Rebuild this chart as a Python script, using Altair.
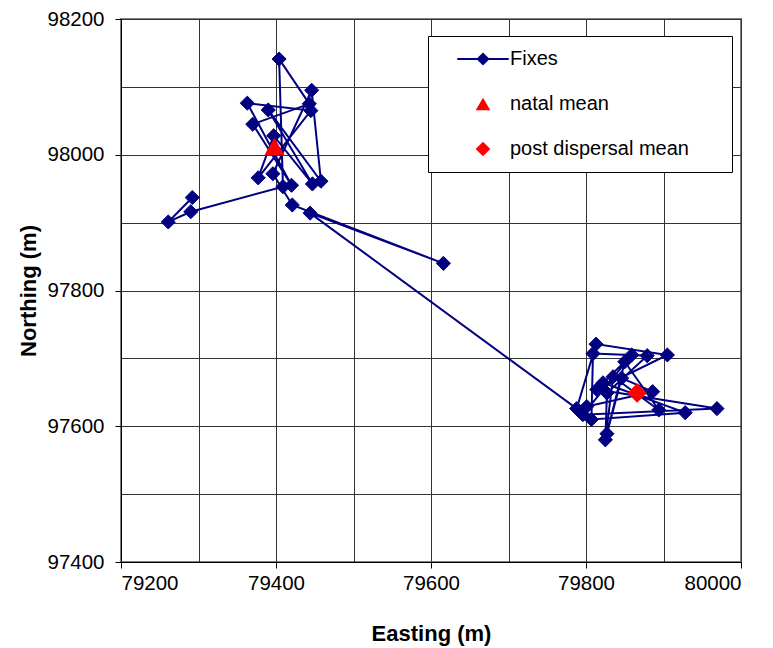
import altair as alt
import pandas as pd

# Telemetry fixes in time order (Easting, Northing in m)
fix_x = [79292, 79261, 79290, 79409, 79404, 79443, 79370, 79420, 79363, 79445,
         79377, 79397, 79447, 79390, 79458, 79446, 79396, 79421, 79616, 79444,
         79788, 79813, 79905, 79814, 79969, 79796, 79859, 79822, 79928, 79807,
         79809, 79879, 79827, 79825, 79835, 79894, 79850, 79827, 79846, 79886,
         79801]
fix_y = [97937, 97901, 97916, 97953, 98141, 98075, 98045, 97955, 98076, 98065,
         97966, 98028, 97957, 98066, 97961, 98095, 97972, 97926, 97840, 97914,
         97626, 97721, 97705, 97654, 97626, 97617, 97705, 97664, 97620, 97610,
         97707, 97704, 97649, 97580, 97673, 97624, 97695, 97589, 97671, 97651,
         97629]

natal_x = [79398]
natal_y = [98012]
post_x = [79866]
post_y = [97649]

series_names = ["Fixes", "natal mean", "post dispersal mean"]
series_colors = ["#000080", "#FF0000", "#FF0000"]
fixes_symbol = ("M-3.5,-0.14L3.5,-0.14L3.5,0.14L-3.5,0.14Z "
                "M-0.9,0L0,-0.9L0.9,0L0,0.9Z")
series_shapes = [fixes_symbol, "triangle-up", "diamond"]

x_ticks = list(range(79200, 80001, 100))
y_ticks = list(range(97400, 98201, 100))

fixes = pd.DataFrame({"x": fix_x, "y": fix_y, "idx": list(range(len(fix_x)))})
natal = pd.DataFrame({"x": natal_x, "y": natal_y, "series": ["natal mean"]})
post = pd.DataFrame({"x": post_x, "y": post_y, "series": ["post dispersal mean"]})

FONT = "Liberation Sans"
tick_op = {"condition": {"test": "datum.value % 200 === 0", "value": 1}, "value": 0}

x_enc = alt.X("x:Q", scale=alt.Scale(domain=[79200, 80000], nice=False, zero=False),
              axis=alt.Axis(values=x_ticks, format="d", title="Easting (m)",
                            labelExpr="datum.value % 200 === 0 ? datum.label : ''",
                            tickOpacity=tick_op, titleX=310, titleY=71,
                            titleBaseline="middle", titleAlign="center"))
y_enc = alt.Y("y:Q", scale=alt.Scale(domain=[97400, 98200], nice=False, zero=False),
              axis=alt.Axis(values=y_ticks, format="d", title="Northing (m)",
                            labelExpr="datum.value % 200 === 0 ? datum.label : ''",
                            tickOpacity=tick_op, titleAngle=270, titleX=-93,
                            titleY=271.5, titleBaseline="middle", titleAlign="center"))

color_scale = alt.Scale(domain=series_names, range=series_colors)
shape_scale = alt.Scale(domain=series_names, range=series_shapes)
# invisible (non-whitespace) blank characters pad the legend frame to the right
legend = alt.Legend(title=None, orient="none", legendX=307, legendY=17,
                    symbolSize=216, symbolOffset=32, labelOffset=17,
                    padding=13, rowPadding=25, strokeColor="#000000",
                    fillColor="#FFFFFF", labelFont=FONT, labelFontSize=20,
                    labelColor="#000000", labelLimit=500,
                    symbolStrokeWidth=0, symbolOpacity=1,
                    labelExpr="datum.label + '\u2800\u2800'")

line = alt.Chart(fixes).mark_line(color="#000080", strokeWidth=2).encode(
    x=x_enc, y=y_enc, order="idx:Q")
pts = alt.Chart(fixes).mark_point(shape="diamond", filled=True, size=200,
                                  color="#000080", stroke="#000080", strokeWidth=1,
                                  opacity=1).encode(x="x:Q", y="y:Q")
natal_pt = alt.Chart(natal).mark_point(filled=True, size=420, opacity=1).encode(
    x="x:Q", y="y:Q",
    color=alt.Color("series:N", scale=color_scale, legend=legend),
    shape=alt.Shape("series:N", scale=shape_scale, legend=legend))
post_pt = alt.Chart(post).mark_point(filled=True, size=380, opacity=1).encode(
    x="x:Q", y="y:Q",
    color=alt.Color("series:N", scale=color_scale, legend=legend),
    shape=alt.Shape("series:N", scale=shape_scale, legend=legend))

chart = alt.layer(line, pts, natal_pt, post_pt).properties(
    width=620, height=543,
    autosize=alt.AutoSizeParams(type="none"),
    padding={"left": 121, "top": 19, "right": 32, "bottom": 86},
    background="#FFFFFF",
).configure_view(
    stroke="#808080", strokeWidth=2
).configure_axis(
    grid=True, gridColor="#333333", gridWidth=1, gridOpacity=1,
    domainColor="#000000", domainWidth=1, tickColor="#000000", tickSize=6,
    labelFont=FONT, labelFontSize=20.5, labelColor="#000000", labelPadding=5,
    titleFont=FONT, titleFontSize=22, titleFontWeight="bold", titleColor="#000000",
).configure_axisY(labelPadding=11)

chart.save("out.html", embed_options={"renderer": "svg", "actions": False})
